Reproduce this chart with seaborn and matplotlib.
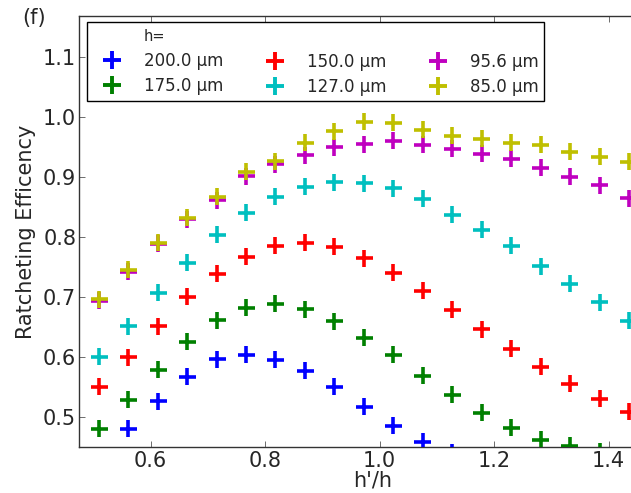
import numpy as np
import pandas as pd
import matplotlib
matplotlib.use("Agg")
import matplotlib.pyplot as plt
from matplotlib.lines import Line2D
import seaborn as sns

nan = np.nan

# h'/h positions of the points
ratio = [0.51, 0.561, 0.613, 0.664, 0.716, 0.767, 0.818, 0.87, 0.921, 0.973,
         1.024, 1.075, 1.127, 1.178, 1.23, 1.281, 1.332, 1.384, 1.435]

h_labels = ['200.0 μm', '175.0 μm', '150.0 μm', '127.0 μm', '95.6 μm', '85.0 μm']
h_colors = ['#0000ff', '#008000', '#ff0000', '#00bfbf', '#bf00bf', '#bfbf00']

eff_200 = [nan, 0.48, 0.526, 0.567, 0.596, 0.603, 0.595, 0.577, 0.55, 0.517,
           0.485, 0.458, 0.44, nan, nan, nan, nan, nan, nan]
eff_175 = [0.48, 0.528, 0.578, 0.625, 0.661, 0.682, 0.688, 0.679, 0.659, 0.632,
           0.603, 0.568, 0.537, 0.507, 0.482, 0.462, 0.452, 0.442, 0.432]
eff_150 = [0.55, 0.599, 0.651, 0.70, 0.738, 0.767, 0.785, 0.79, 0.783, 0.764,
           0.74, 0.71, 0.678, 0.646, 0.613, 0.583, 0.555, 0.53, 0.508]
eff_127 = [0.60, 0.651, 0.707, 0.757, 0.803, 0.84, 0.867, 0.883, 0.891, 0.889,
           0.881, 0.863, 0.837, 0.812, 0.785, 0.751, 0.722, 0.691, 0.66]
eff_956 = [0.693, 0.742, 0.788, 0.829, 0.861, 0.901, 0.921, 0.936, 0.949, 0.954,
           0.96, 0.953, 0.947, 0.938, 0.93, 0.915, 0.90, 0.886, 0.864]
eff_850 = [0.696, 0.745, 0.79, 0.832, 0.867, 0.908, 0.926, 0.957, 0.976, 0.992,
           0.99, 0.978, 0.968, 0.963, 0.957, 0.953, 0.942, 0.933, 0.925]

series = [eff_200, eff_175, eff_150, eff_127, eff_956, eff_850]

frames = []
for label, vals in zip(h_labels, series):
    frames.append(pd.DataFrame({'ratio': ratio, 'eff': vals, 'h': label}))
df = pd.concat(frames, ignore_index=True).dropna()

sns.set_style("ticks")
plt.rcParams['font.family'] = ['DejaVu Sans']

fig = plt.figure(figsize=(6.31, 4.93), dpi=100)
ax = fig.add_axes([79 / 631, 45.7 / 493, 587 / 631, 431.3 / 493])

sns.scatterplot(data=df, x='ratio', y='eff', hue='h', hue_order=h_labels,
                palette=h_colors, marker='+', s=150, linewidth=2.6,
                legend=False, ax=ax, zorder=3)

ax.set_xlim(0.475, 1.5)
ax.set_ylim(0.449, 1.168)
ax.set_xticks([0.6, 0.8, 1.0, 1.2, 1.4])
ax.set_yticks([0.5, 0.6, 0.7, 0.8, 0.9, 1.0, 1.1])
ax.set_xlabel("h'/h", fontsize=15, labelpad=-1)
ax.set_ylabel('Ratcheting Efficency', fontsize=15, labelpad=5)
ax.tick_params(direction='in', length=4, width=0.6, color='#555555',
               labelsize=15, top=True, right=True)
ax.tick_params(axis='x', pad=3)
ax.tick_params(axis='y', pad=2)
for sp in ax.spines.values():
    sp.set_color('#333333')
    sp.set_linewidth(1.0)

# legend: a blank first entry holds "h=" above the first column of labels
blank = Line2D([], [], linestyle='', marker='')
handles = [blank]
labels = ['h=']
for i, (label, color) in enumerate(zip(h_labels, h_colors)):
    if i in (2, 4):
        handles.append(Line2D([], [], linestyle='', marker=''))
        labels.append('')
    handles.append(Line2D([], [], linestyle='', marker='+', color=color,
                          markersize=13, markeredgewidth=2.8))
    labels.append(label)

leg = ax.legend(handles, labels, ncol=3, loc='upper left',
                bbox_to_anchor=(0.0141, 0.9854), borderaxespad=0,
                fontsize=12, frameon=True, fancybox=False, framealpha=1,
                edgecolor='black', handlelength=2.37, handletextpad=0.74,
                columnspacing=1.9, labelspacing=0.45, borderpad=0.3)
leg.get_frame().set_linewidth(1.0)
leg.get_texts()[0].set_fontsize(10.5)

fig.text(22 / 631, 1 - 18 / 493, '(f)', fontsize=15, ha='left', va='center')

fig.savefig('out.png', dpi=100)
